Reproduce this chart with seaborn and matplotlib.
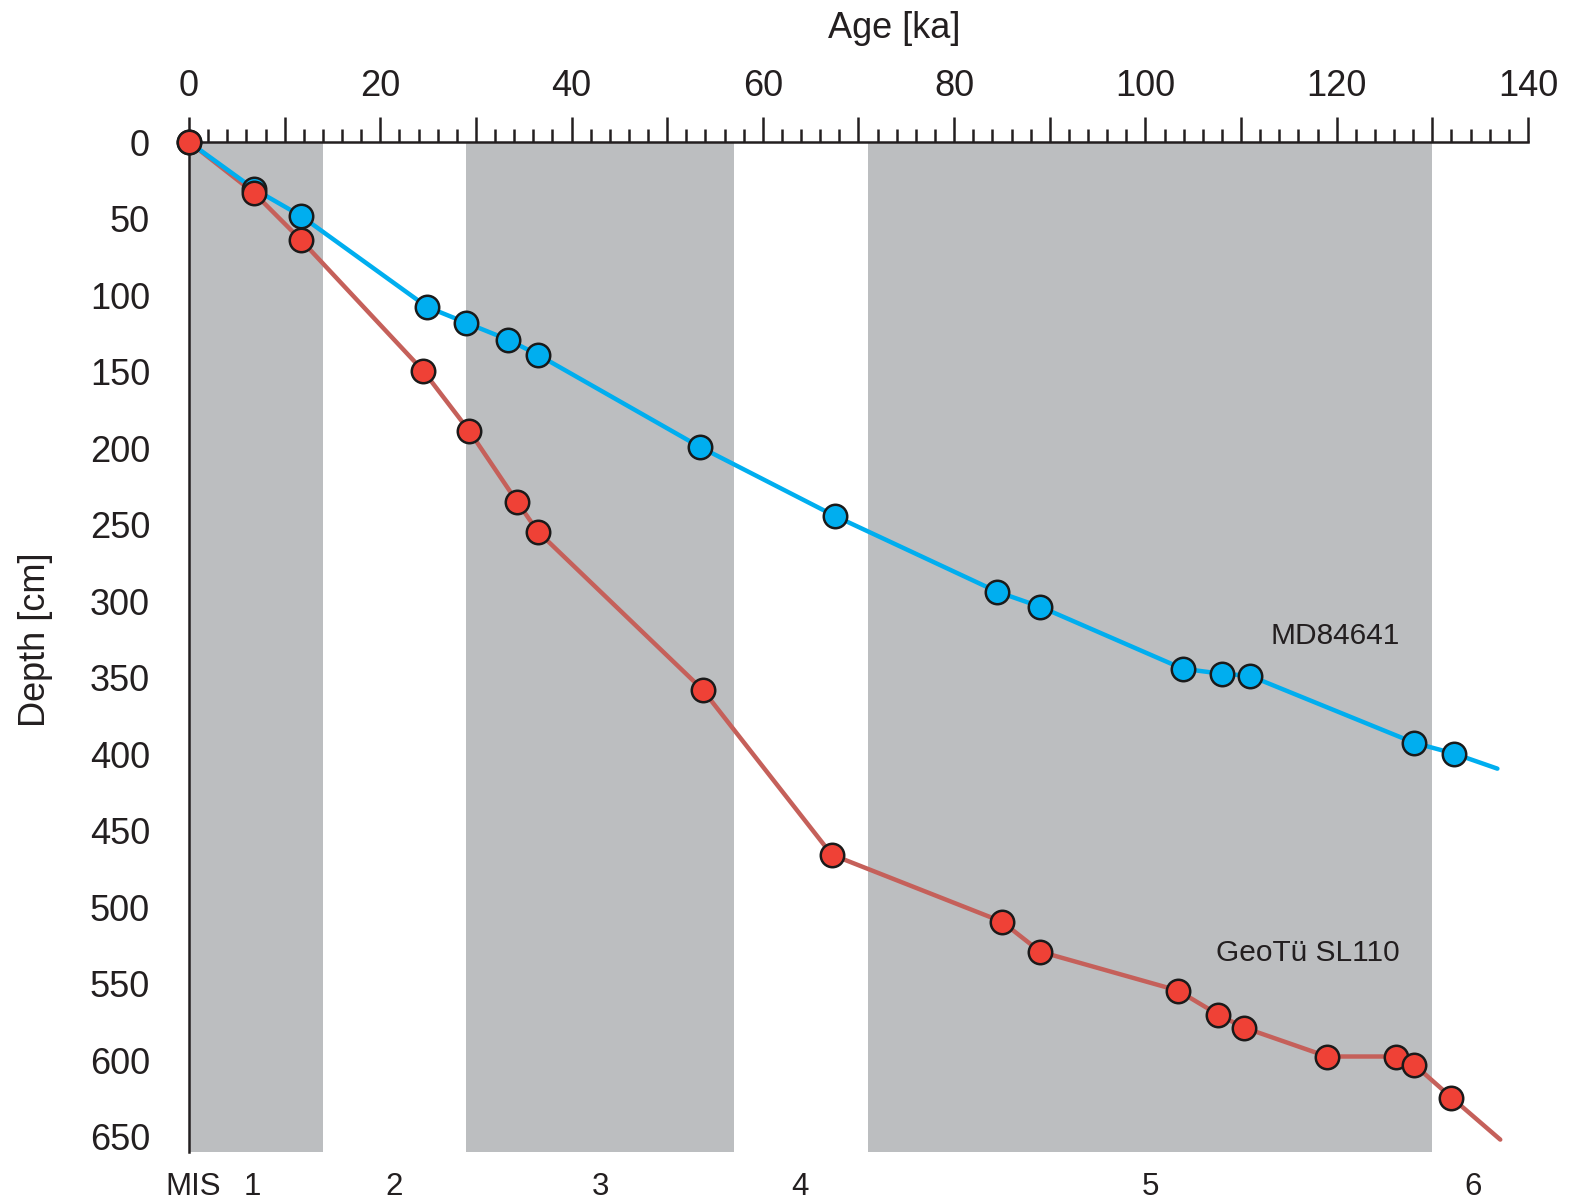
import matplotlib
matplotlib.use("Agg")
import matplotlib.pyplot as plt
import matplotlib.transforms as mtransforms
from matplotlib.ticker import MultipleLocator, FuncFormatter
import seaborn as sns
import pandas as pd

# ---- data ----
md_age = [0, 6.8, 11.7, 24.9, 29.0, 33.4, 36.5, 53.4, 67.5, 84.5, 89.0, 103.9, 108.0, 110.9, 128.1, 132.3]
md_depth = [0, 30.7, 48.3, 107.8, 118.2, 129.3, 139.1, 199.2, 244.3, 293.9, 303.7, 344.2, 347.5, 348.8, 392.6, 399.7]
md_end_age = 136.8
md_end_depth = 409.5

geo_age = [0, 6.8, 11.7, 24.5, 29.3, 34.3, 36.5, 53.7, 67.2, 85.0, 89.0, 103.4, 107.6, 110.3, 119.0, 126.2, 128.1, 132.0]
geo_depth = [0, 33.3, 64.0, 149.6, 188.8, 235.1, 254.7, 357.9, 465.7, 509.5, 529.1, 554.5, 570.2, 578.7, 597.6, 597.6, 602.9, 624.4]
geo_end_age = 137.1
geo_end_depth = 651.9

mis_glacial_bands = [(0, 14), (29, 57), (71, 130)]
mis_labels = ["MIS", "1", "2", "3", "4", "5", "6"]
mis_label_age = [0.4, 6.6, 21.4, 43.0, 63.9, 100.5, 134.3]

series_names = ["MD84641", "GeoTü SL110"]
series_label_age = [126.6, 126.6]
series_label_depth = [322.7, 529.7]

# ---- style ----
sns.set_style("white")
plt.rcParams['font.family'] = ['Liberation Sans', 'DejaVu Sans']

blue = "#00AEEF"
red_line = "#C5605A"
red_marker = "#EF4136"
band_color = "#BCBEC0"
ink = "#231F20"

fig = plt.figure(figsize=(15.74, 12.04), dpi=100)
ax = fig.add_axes([189/1574, 1 - 1152/1204, (1528-189)/1574, (1152-142)/1204])

for a0, a1 in mis_glacial_bands:
    ax.axvspan(a0, a1, color=band_color, lw=0, zorder=0)

md_line = pd.DataFrame({"age": md_age + [md_end_age], "depth": md_depth + [md_end_depth]})
geo_line = pd.DataFrame({"age": geo_age + [geo_end_age], "depth": geo_depth + [geo_end_depth]})
md_pts = pd.DataFrame({"age": md_age, "depth": md_depth})
geo_pts = pd.DataFrame({"age": geo_age, "depth": geo_depth})

sns.lineplot(data=geo_line, x="age", y="depth", sort=False, estimator=None,
             color=red_line, lw=3.2, ax=ax, zorder=2, solid_capstyle="round")
sns.lineplot(data=md_line, x="age", y="depth", sort=False, estimator=None,
             color=blue, lw=3.2, ax=ax, zorder=3, solid_capstyle="round")
sns.scatterplot(data=md_pts, x="age", y="depth", color=blue, s=285,
                edgecolor="#1a1a1a", linewidth=1.8, ax=ax, zorder=4, clip_on=False)
sns.scatterplot(data=geo_pts, x="age", y="depth", color=red_marker, s=285,
                edgecolor="#1a1a1a", linewidth=1.8, ax=ax, zorder=5, clip_on=False)

ax.set_xlim(0, 140)
ax.set_ylim(660, 0)

ax.xaxis.tick_top()
ax.xaxis.set_label_position("top")
ax.xaxis.set_major_locator(MultipleLocator(10))
ax.xaxis.set_minor_locator(MultipleLocator(2))
ax.xaxis.set_major_formatter(FuncFormatter(lambda v, p: f"{int(round(v))}" if int(round(v)) % 20 == 0 else ""))
ax.yaxis.set_major_locator(MultipleLocator(50))
ax.yaxis.set_minor_locator(MultipleLocator(10))
ax.yaxis.set_major_formatter(FuncFormatter(lambda v, p: f"{int(round(v))}"))

ax.tick_params(axis="both", which="major", direction="out", length=18, width=1.8,
               color=ink, labelsize=26, labelcolor=ink)
ax.tick_params(axis="both", which="minor", direction="out", length=9.5, width=1.8, color=ink)
ax.tick_params(axis="x", which="major", pad=9)
ax.tick_params(axis="y", which="major", pad=10)

for side in ["right", "bottom"]:
    ax.spines[side].set_visible(False)
for side in ["top", "left"]:
    ax.spines[side].set_linewidth(1.8)
    ax.spines[side].set_color(ink)

ax.set_xlabel("Age [ka]", fontsize=26, color=ink)
ax.set_ylabel("Depth [cm]", fontsize=26, color=ink)
ax.xaxis.set_label_coords(0.527, 1.103)
ax.yaxis.set_label_coords(-0.1015, 0.507)

for name, a, d in zip(series_names, series_label_age, series_label_depth):
    ax.text(a, d, name, fontsize=21.5, color=ink, ha="right", va="center")

trans = mtransforms.blended_transform_factory(ax.transData, ax.transAxes)
for lab, a in zip(mis_labels, mis_label_age):
    ax.text(a, -0.035, lab, fontsize=22.5, color=ink, ha="center", va="center",
            transform=trans, clip_on=False)

fig.savefig("out.png", dpi=100)
